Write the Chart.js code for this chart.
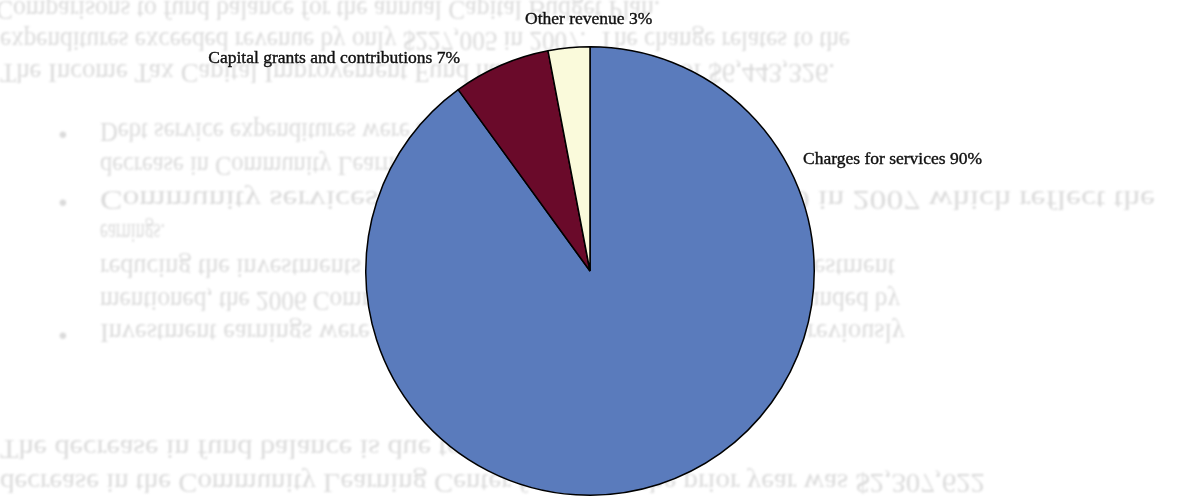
<!DOCTYPE html>
<html>
<head>
<meta charset="utf-8">
<script src="https://cdn.jsdelivr.net/npm/chart.js@4/dist/chart.umd.min.js"></script>
<style>
  html, body { margin: 0; padding: 0; background: #fff; }
  #wrap { width: 1180px; height: 498px; position: relative; }
</style>
</head>
<body>
<div id="wrap"><canvas id="revenueChart" width="1180" height="498"></canvas></div>
<script>
const categories = ['Charges for services', 'Capital grants and contributions', 'Other revenue'];
const shares = [90, 7, 3];
const sliceColors = ['#5a7bbc', '#6a0a2a', '#fafadb'];

// page text showing through from the reverse side of the sheet (x, y = start, middle; end = right edge)
const reverseLines = [
  { text: 'Comparisons to fund balance for the annual Capital Budget Plan.', x: -4, y: 8, end: 660 },
  { text: 'expenditures exceeded revenue by only $227,005 in 2007.  The change relates to the', x: 0, y: 39, end: 850 },
  { text: 'The Income Tax Capital Improvement Fund has a fund balance of $6,443,326.', x: 0, y: 71, end: 835 },
  { text: '\u2022', x: 58, y: 132 },
  { text: 'Debt service expenditures were $44,777,225 in the current year.', x: 100, y: 130, end: 730 },
  { text: 'decrease in Community Learning Centers cost during the year.', x: 100, y: 164, end: 710 },
  { text: '\u2022', x: 58, y: 200 },
  { text: 'Community services expenditures were $10,421,700 in 2007 which reflect the', x: 100, y: 198, end: 1155 },
  { text: 'earnings.', x: 100, y: 231, end: 165 },
  { text: 'reducing the investments held directly pursuant to the amount of investment', x: 100, y: 266, end: 895 },
  { text: 'mentioned, the 2006 Community Learning Center project costs were funded by', x: 100, y: 299, end: 900 },
  { text: '\u2022', x: 58, y: 333 },
  { text: 'Investment earnings were $1,242,174 less than the prior year.  As previously', x: 100, y: 331, end: 905 },
  { text: 'The decrease in fund balance is due to the following:', x: 0, y: 447, end: 640 },
  { text: 'decrease in the Community Learning Center fund from the prior year was $2,307,622', x: 0, y: 481, end: 985 }
];

const labelSpots = [
  { x: 803, y: 164, align: 'left' },
  { x: 460, y: 63, align: 'right' },
  { x: 525, y: 24, align: 'left' }
];

const showThrough = {
  id: 'showThrough',
  beforeDraw(chart) {
    const ctx = chart.ctx;
    ctx.save();
    ctx.fillStyle = 'rgba(95,95,95,0.23)';
    ctx.font = '28px "Liberation Serif", "Times New Roman", serif';
    ctx.textBaseline = 'middle';
    ctx.filter = 'blur(0.9px)';
    reverseLines.forEach((line) => {
      const sx = line.end ? (line.end - line.x) / ctx.measureText(line.text).width : 1;
      ctx.save();
      ctx.translate(line.x, line.y);
      ctx.scale(sx, -1);
      ctx.fillText(line.text, 0, 0);
      ctx.restore();
    });
    ctx.restore();
  }
};

const sliceLabels = {
  id: 'sliceLabels',
  afterDraw(chart) {
    const ctx = chart.ctx;
    const data = chart.data.datasets[0].data;
    ctx.save();
    ctx.fillStyle = '#111';
    ctx.strokeStyle = '#111';
    ctx.lineWidth = 0.4;
    ctx.font = '17.5px "Liberation Serif", "Times New Roman", serif';
    ctx.textBaseline = 'alphabetic';
    chart.data.labels.forEach((label, i) => {
      const spot = labelSpots[i];
      const text = label + ' ' + data[i] + '%';
      ctx.textAlign = spot.align;
      ctx.fillText(text, spot.x, spot.y);
      ctx.strokeText(text, spot.x, spot.y);
    });
    ctx.restore();
  }
};

new Chart(document.getElementById('revenueChart'), {
  type: 'pie',
  data: {
    labels: categories,
    datasets: [{
      data: shares,
      backgroundColor: sliceColors,
      borderColor: '#000',
      borderWidth: 1.5,
      borderAlign: 'center'
    }]
  },
  options: {
    responsive: false,
    animation: false,
    layout: { padding: { top: 46, bottom: 2, left: 0, right: 0 } },
    plugins: {
      legend: { display: false },
      tooltip: { enabled: false }
    }
  },
  plugins: [showThrough, sliceLabels]
});
</script>
</body>
</html>
